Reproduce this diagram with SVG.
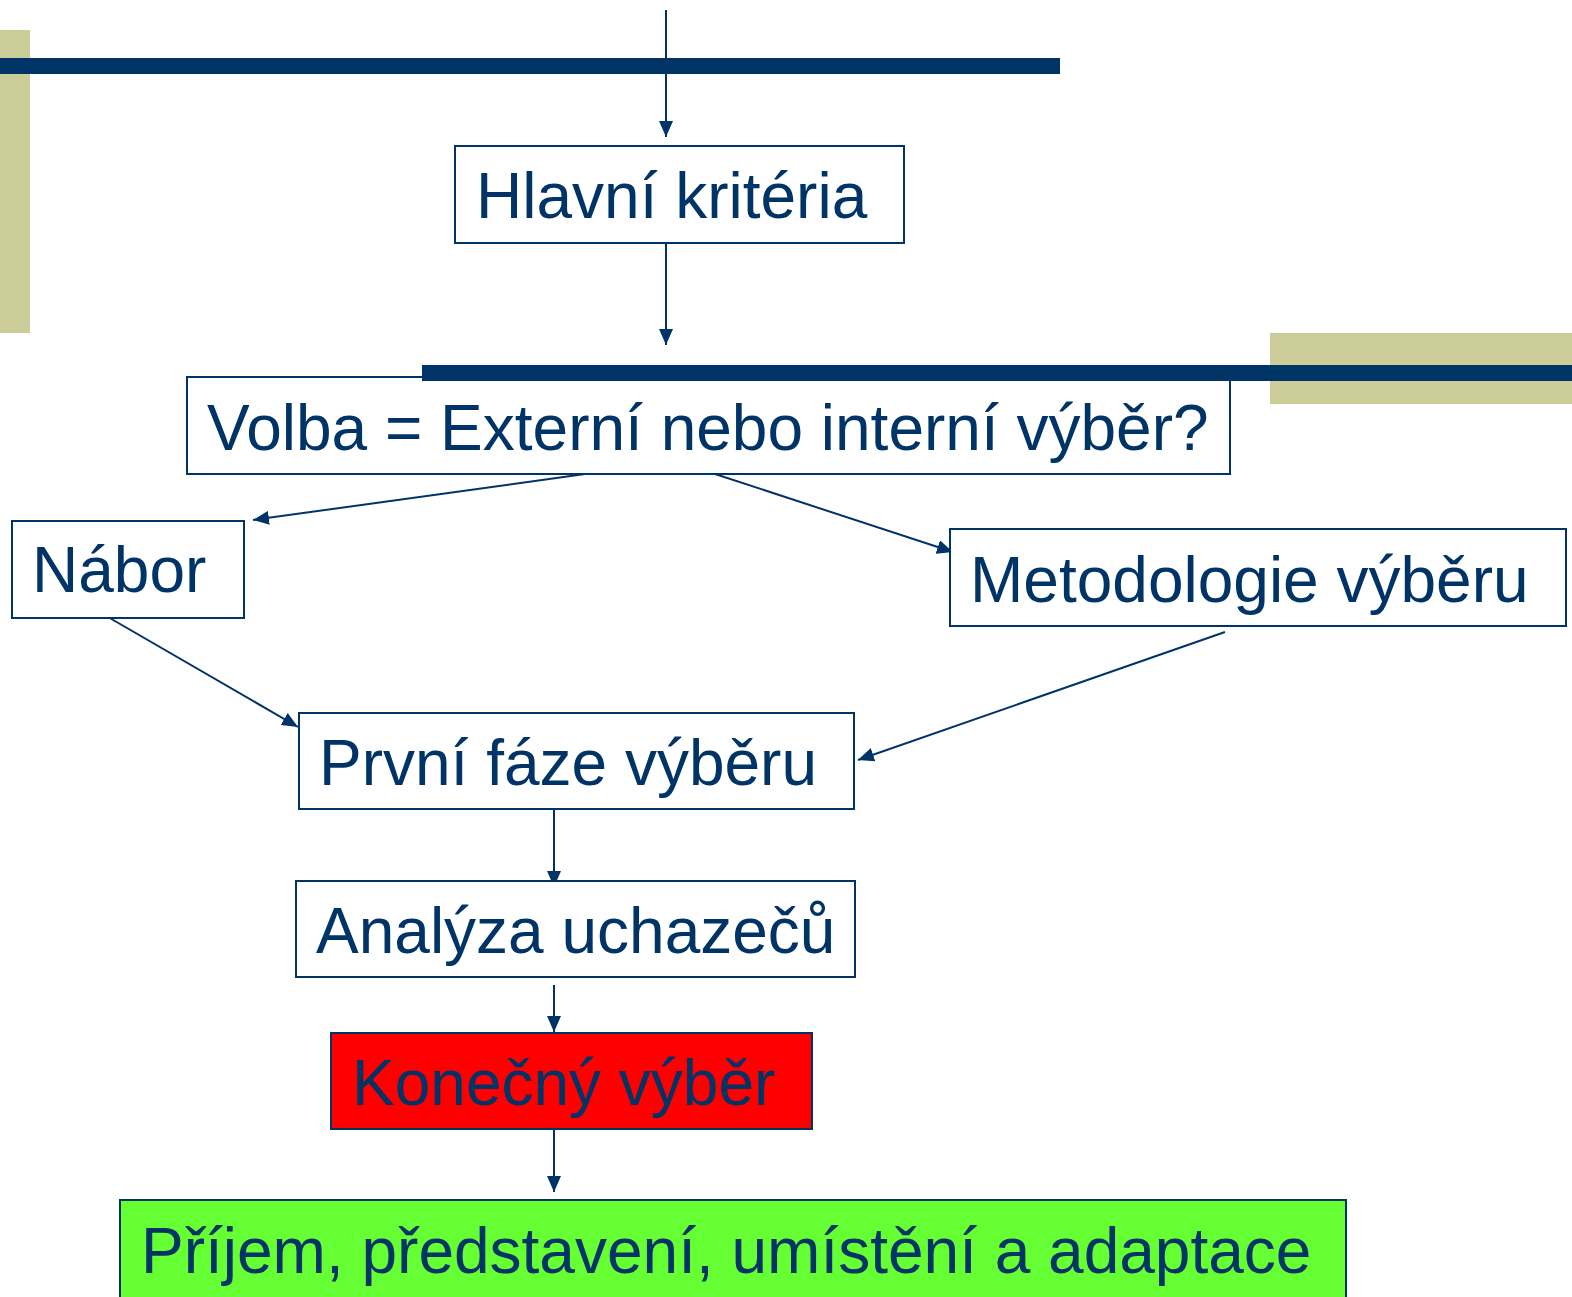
<svg xmlns="http://www.w3.org/2000/svg" width="1572" height="1297" viewBox="0 0 1572 1297">
<defs>
<marker id="ah" viewBox="0 0 16 14" refX="16" refY="7" markerWidth="16" markerHeight="14" markerUnits="userSpaceOnUse" orient="auto">
<path d="M0,0 L16,7 L0,14 Z" fill="#003366"/>
</marker>
</defs>
<style>
.box{fill:#ffffff;stroke:#003366;stroke-width:2}
.t{font-family:"Liberation Sans",Arial,sans-serif;font-size:64px;fill:#003366}
.c{stroke:#003366;stroke-width:2;fill:none;marker-end:url(#ah)}
</style>
<rect x="0" y="30" width="30" height="303" fill="#CCCC99"/>
<rect x="1270" y="333" width="302" height="71" fill="#CCCC99"/>
<g id="connectors">
<line class="c" x1="666" y1="10" x2="666" y2="137"/>
<line class="c" x1="666" y1="235" x2="666" y2="345"/>
<line class="c" x1="585" y1="474" x2="253" y2="520"/>
<line class="c" x1="715" y1="474" x2="953" y2="552"/>
<line class="c" x1="108" y1="617" x2="298" y2="727"/>
<line class="c" x1="1225" y1="632" x2="858" y2="760"/>
<line class="c" x1="554" y1="810" x2="554" y2="887"/>
<line class="c" x1="554" y1="985" x2="554" y2="1032"/>
<line class="c" x1="554" y1="1130" x2="554" y2="1192"/>
</g>
<rect x="0" y="58" width="1060" height="16" fill="#003366"/>
<g id="n1"><rect class="box" x="455" y="146" width="449" height="97"/><text class="t" x="476" y="218">Hlavní kritéria</text></g>
<g id="n2"><rect class="box" x="187" y="377" width="1043" height="97"/><text class="t" x="207" y="450">Volba = Externí nebo interní výběr?</text></g>
<rect x="422" y="365" width="1150" height="16" fill="#003366"/>
<g id="n3"><rect class="box" x="12" y="521" width="232" height="97"/><text class="t" x="32" y="592">Nábor</text></g>
<g id="n4"><rect class="box" x="950" y="529" width="616" height="97"/><text class="t" x="970" y="602">Metodologie výběru</text></g>
<g id="n5"><rect class="box" x="299" y="713" width="555" height="96"/><text class="t" x="319" y="785">První fáze výběru</text></g>
<g id="n6"><rect class="box" x="296" y="881" width="559" height="96"/><text class="t" x="316" y="953">Analýza uchazečů</text></g>
<g id="n7"><rect class="box" x="331" y="1033" width="481" height="96" style="fill:#FF0000"/><text class="t" x="352" y="1105">Konečný výběr</text></g>
<g id="n8"><rect class="box" x="120" y="1200" width="1226" height="100" style="fill:#66FF33"/><text class="t" x="141" y="1273">Příjem, představení, umístění a adaptace</text></g>
</svg>
